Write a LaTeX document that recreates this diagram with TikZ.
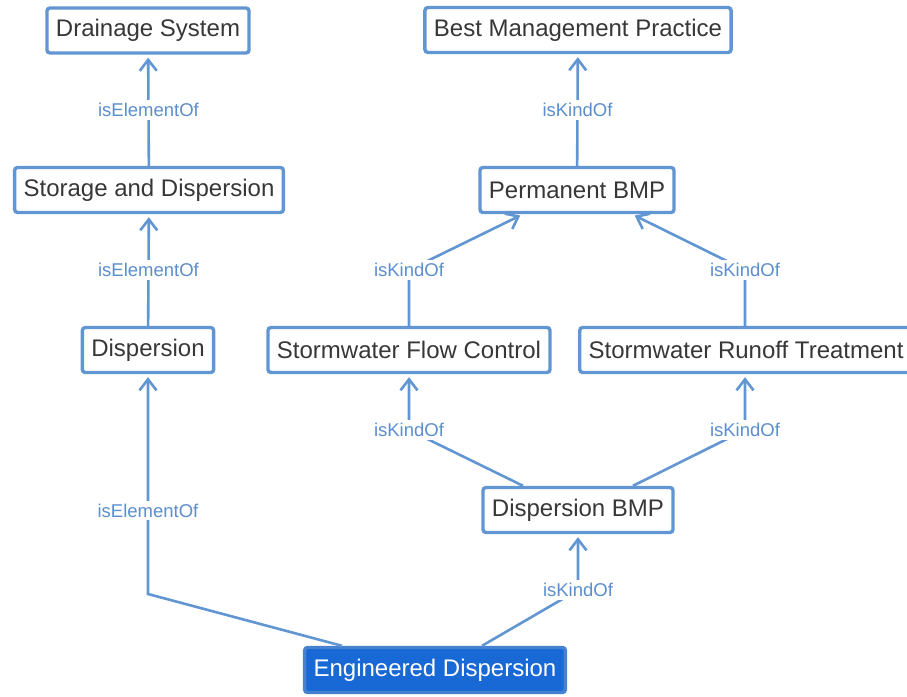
\documentclass[tikz,border=0pt]{standalone}
\usepackage{fontspec}
\setmainfont{Liberation Sans}
\usepackage{tikz}
\usetikzlibrary {arrows.meta}
\usepackage{xcolor}
\definecolor{edgeblue}{RGB}{98,150,210}
\definecolor{labelblue}{RGB}{92,142,206}
\definecolor{selblue}{RGB}{24,104,214}
\definecolor{selborder}{RGB}{70,130,208}
\definecolor{textgray}{RGB}{55,55,55}

\begin{document}
\begin{tikzpicture}[x=1pt, y=-1pt,
	box/.style={rectangle, draw=edgeblue, line width=3.4pt, rounded corners=3pt, fill=white, text=textgray, minimum height=45pt, inner xsep=9pt, font=\fontsize{24}{28}\selectfont},
	sel/.style={box, fill=selblue, draw=selborder, text=white},
	rel/.style={draw=edgeblue, line width=2.6pt, shorten >=3pt, -{Straight Barb[length=11pt, width=17pt]}},
	lbl/.style={fill=white, text=labelblue, inner xsep=2pt, inner ysep=3pt, font=\fontsize{18.5}{22}\selectfont}]
	\useasboundingbox (0,0) rectangle (907,696);
	\clip (0,0) rectangle (907,696);
	\node[box] (drainage) at (148,30.5) {Drainage System};
	\node[box] (storage) at (149,190) {Storage and Dispersion};
	\node[box] (dispersion) at (148,350) {Dispersion};
	\node[box] (practice) at (578,30) {Best Management Practice};
	\node[box] (permanent) at (577,190) {Permanent BMP};
	\node[box] (flowctl) at (409,350) {Stormwater Flow Control};
	\node[box, anchor=west] (runoff) at (578,350) {Stormwater Runoff Treatment};
	\node[box] (dispbmp) at (578,510) {Dispersion BMP};
	\node[sel] (engdisp) at (435,670) {Engineered Dispersion};
	\coordinate (b1) at (409,270);
	\coordinate (b2) at (745,270);
	\coordinate (b3) at (409,430);
	\coordinate (b4) at (745,430);
	\coordinate (b5) at (578,590);
	\coordinate (b6) at (148,594);
	\draw[rel] (storage) -- node[lbl] {isElementOf} (drainage);
	\draw[rel] (dispersion) -- node[lbl] {isElementOf} (storage);
	\draw[rel] (permanent) -- node[lbl] {isKindOf} (practice);
	\draw[rel] (flowctl.north) -- (b1) node[lbl] {isKindOf} -- ([xshift=-54pt]permanent.south);
	\draw[rel] (b2 |- runoff.north) -- (b2) node[lbl] {isKindOf} -- ([xshift=55pt]permanent.south);
	\draw[rel] ([xshift=-55pt]dispbmp.north) -- (b3) node[lbl] {isKindOf} -- (flowctl.south);
	\draw[rel] ([xshift=55pt]dispbmp.north) -- (b4) node[lbl] {isKindOf} -- (b4 |- runoff.south);
	\draw[rel] ([xshift=47pt]engdisp.north) -- (b5) node[lbl] {isKindOf} -- (dispbmp.south);
	\draw[rel] ([xshift=-93pt]engdisp.north) -- (b6) -- node[lbl, pos=0.38] {isElementOf} (dispersion.south);
\end{tikzpicture}
\end{document}
